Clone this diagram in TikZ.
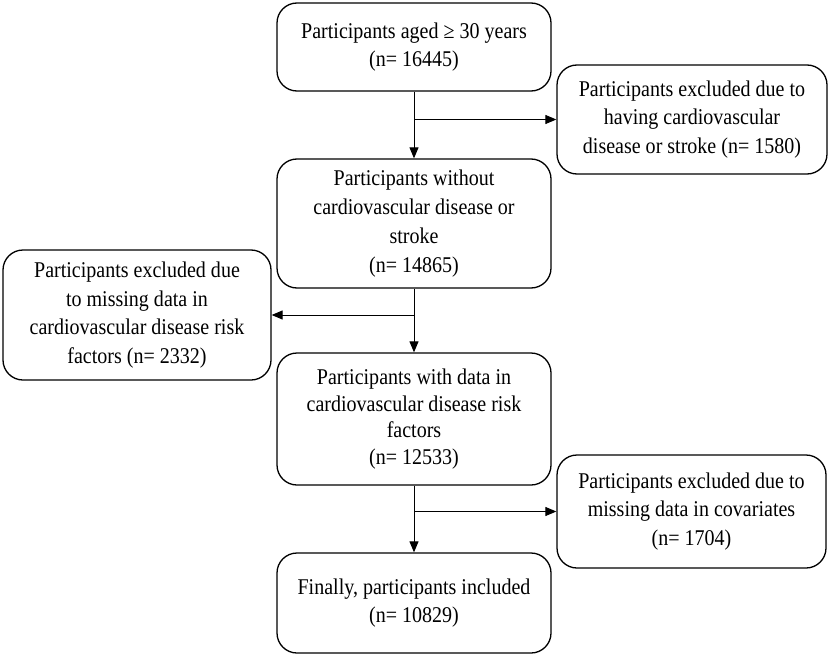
\documentclass[tikz,border=0pt]{standalone}
\usepackage{fontspec}
\setmainfont{Liberation Serif}[FakeStretch=0.89]
\usetikzlibrary{arrows.meta}
\begin{document}
\begin{tikzpicture}[
        x=1pt, y=-1pt,
        box/.style={rectangle, draw, rounded corners=20pt, line width=1.3pt, align=center, inner sep=0pt, font=\fontsize{22.5}{28.8}\selectfont},
        arrow/.style={-{Triangle[length=11pt, width=9pt]}, line width=1pt}
    ]
        \useasboundingbox (0,0) rectangle (829,658);

        \node[box, minimum width=274pt, minimum height=88pt] (aged) at (414,47) {Participants aged ≥ 30 years\\(n= 16445)};
        \node[box, minimum width=270pt, minimum height=109pt] (excl1) at (692,119.5) {Participants excluded due to\\having cardiovascular\\disease or stroke (n= 1580)};
        \node[box, minimum width=274pt, minimum height=129pt] (nocvd) at (414,223.5) {Participants without\\cardiovascular disease or\\stroke\\(n= 14865)};
        \node[box, minimum width=268pt, minimum height=130pt] (excl2) at (137,315) {Participants excluded due\\to missing data in\\cardiovascular disease risk\\factors (n= 2332)};
        \node[box, minimum width=274pt, minimum height=132pt, font=\fontsize{22.5}{26.5}\selectfont] (riskdata) at (414,419) {Participants with data in\\cardiovascular disease risk\\factors\\(n= 12533)};
        \node[box, minimum width=269pt, minimum height=113pt] (excl3) at (691.5,511.5) {Participants excluded due to\\missing data in covariates\\(n= 1704)};
        \node[box, minimum width=274pt, minimum height=100pt] (final) at (414,603) {Finally, participants included\\(n= 10829)};

        \draw[arrow] (aged) -- (nocvd);
        \draw[arrow] (aged.south |- excl1.west) -- (excl1.west);
        \draw[arrow] (nocvd) -- (riskdata);
        \draw[arrow] (nocvd.south |- excl2.east) -- (excl2.east);
        \draw[arrow] (riskdata) -- (final);
        \draw[arrow] (riskdata.south |- excl3.west) -- (excl3.west);
    \end{tikzpicture}
\end{document}
